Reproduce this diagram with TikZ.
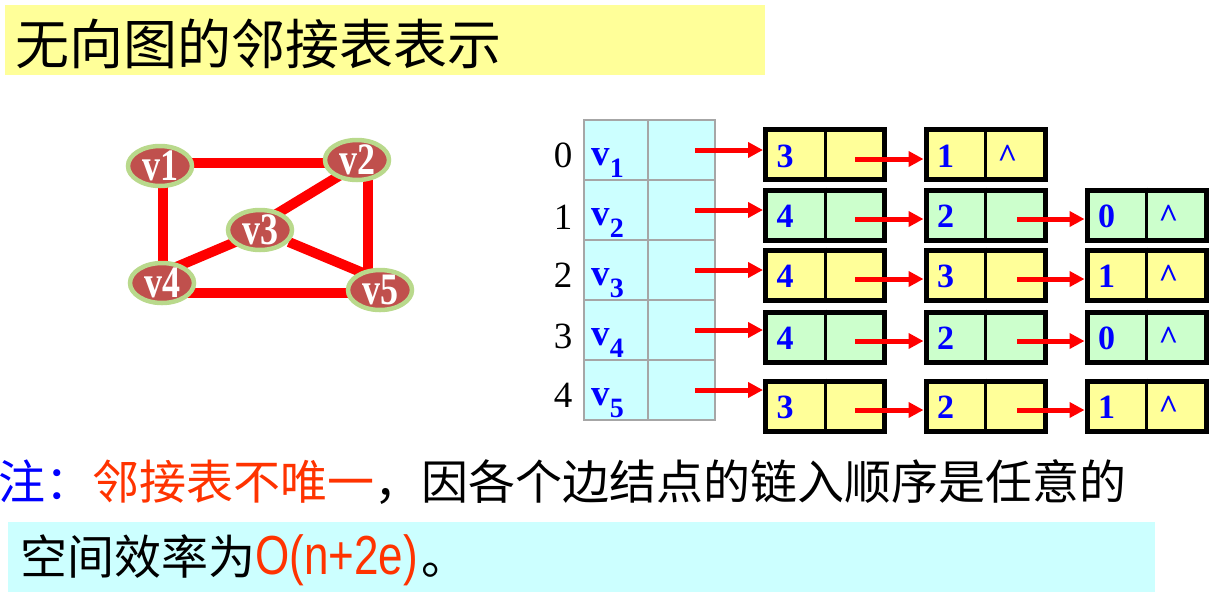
\documentclass[tikz,border=0pt]{standalone}
\usepackage{fontspec}
\setmainfont{Liberation Serif}
\newfontfamily\cjk{Noto Sans CJK SC}
\newfontfamily\narrowfont[FakeStretch=0.8]{Liberation Sans}
\newfontfamily\gfont[FakeStretch=0.8]{Liberation Serif}
\usetikzlibrary{arrows.meta,shapes.geometric,calc}
\definecolor{lyellow}{HTML}{FFFF99}
\definecolor{lgreen}{HTML}{CCFFCC}
\definecolor{lcyan}{HTML}{CCFFFF}
\definecolor{gfill}{HTML}{C0504D}
\definecolor{gborder}{HTML}{B9D98C}
\definecolor{tred}{HTML}{FF3300}
\definecolor{gridgray}{HTML}{A6A6A6}
\pgfdeclarelayer{background}
\pgfsetlayers{background,main}
\tikzset{
  gnode/.style={ellipse, draw=gborder, line width=4.5pt, fill=gfill, minimum width=64pt, minimum height=40pt, inner sep=0pt},
  gtext/.style={inner sep=0pt, text=white, font=\gfont\fontsize{45}{45}\selectfont\bfseries},
  gedge/.style={draw=red, line width=10pt},
  tcell/.style={draw=gridgray, line width=1.5pt, fill=lcyan, minimum height=60pt, inner sep=0pt},
  idx/.style={font=\fontsize{37}{37}\selectfont, inner sep=0pt},
  vlab/.style={text=blue, font=\fontsize{37}{37}\selectfont\bfseries, inner sep=0pt, anchor=base west},
  lbox/.style={draw=black, line width=5pt, minimum width=119pt, minimum height=50pt, inner sep=0pt},
  dig/.style={text=blue, font=\fontsize{34}{34}\selectfont\bfseries, inner sep=0pt, anchor=base},
  parrow/.style={draw=red, line width=5pt, -{Triangle[length=15pt,width=15pt]}},
  band/.style={inner sep=0pt, anchor=north west},
  cjktext/.style={inner sep=0pt, anchor=west},
}
\newcommand\mkbox[6]{%
  \node[lbox, fill=#4] (#1) at (#2,#3) {};
  \draw[line width=3pt] (#1.north) -- (#1.south);
  \node[dig] (#1d) at ($(#1.west)+(22,12.5)$) {#5};
  \node[dig] (#1c) at ($(#1.center)+(22,12.5)$) {#6};
}
\newcommand\vsub[1]{v\raisebox{-12pt}{\fontsize{28}{28}\selectfont #1}}
\begin{document}
\begin{tikzpicture}[x=1pt,y=-1pt]
\useasboundingbox (0,0) rectangle (1222,592);
% title band
\node[band, fill=lyellow, minimum width=760pt, minimum height=70pt] (titlebar) at (5,5) {};
\node[cjktext, font=\cjk\fontsize{54}{54}\selectfont] (title) at (15,44) {无向图的邻接表表示};
% graph
\foreach \n/\x/\y in {v1/160/166,v2/357/160,v3/260/230,v4/162/283,v5/380/290}{
  \node[gnode] (\n) at (\x,\y) {};
  \node[gtext] (\n t) at (\n) {\n};
}
\begin{pgfonlayer}{background}
\draw[gedge] ($(v1)+(0,-3)$) -- ($(v2)+(0,3)$);
\draw[gedge] ($(v1)+(3,0)$) -- ($(v4)+(1,0)$);
\draw[gedge] ($(v2)+(11,0)$) -- ($(v5)+(-12,0)$);
\draw[gedge] ($(v4)+(0,10)$) -- ($(v5)+(0,3)$);
\draw[gedge] ($(v2)+(0,5)$) -- ($(v3)+(0,-6)$);
\draw[gedge] ($(v3)+(0,1.5)$) -- ($(v4)+(0,-10)$);
\draw[gedge] (v3) -- ($(v5)+(0,-10)$);
\end{pgfonlayer}
% table
\foreach \i/\yy/\iy in {1/150/155,2/210/217,3/270/275,4/330/336,5/390/395}{
  \node[tcell, minimum width=64pt] (tk\i) at (616,\yy) {};
  \node[tcell, minimum width=67pt] (tp\i) at (681.5,\yy) {};
  \pgfmathtruncatemacro\ix{\i-1}
  \node[idx] (ix\i) at (563,\iy) {\ix};
  \node[vlab] (lab\i) at ($(tk\i.west)+(8,15)$) {\vsub{\i}};
  \coordinate (s\i) at ($(tp\i.center)+(13.5,0)$);
}
% lists
\mkbox{n11}{825}{154.5}{lyellow}{3}{}
\mkbox{n12}{985.5}{154.5}{lyellow}{1}{\textasciicircum}
\mkbox{n21}{825}{215}{lgreen}{4}{}
\mkbox{n22}{985.5}{215}{lgreen}{2}{}
\mkbox{n23}{1146.5}{215}{lgreen}{0}{\textasciicircum}
\mkbox{n31}{825}{275}{lyellow}{4}{}
\mkbox{n32}{985.5}{275}{lyellow}{3}{}
\mkbox{n33}{1146.5}{275}{lyellow}{1}{\textasciicircum}
\mkbox{n41}{825}{337}{lgreen}{4}{}
\mkbox{n42}{985.5}{337}{lgreen}{2}{}
\mkbox{n43}{1146.5}{337}{lgreen}{0}{\textasciicircum}
\mkbox{n51}{825}{406}{lyellow}{3}{}
\mkbox{n52}{985.5}{406}{lyellow}{2}{}
\mkbox{n53}{1146.5}{406}{lyellow}{1}{\textasciicircum}
% table arrows
\foreach \i in {1,...,5}{
  \draw[parrow] (s\i) -- (s\i -| n\i1.west);
}
% list arrows
\draw[parrow] ($(n11.center)+(30,4.5)$) -- ($(n12.west)+(0,4.5)$);
\foreach \i in {2,...,5}{
  \draw[parrow] ($(n\i1.center)+(30,4)$) -- ($(n\i2.west)+(0,4)$);
  \draw[parrow] ($(n\i2.center)+(31.5,4)$) -- ($(n\i3.west)+(0,4)$);
}
% notes
\node[cjktext, font=\cjk\fontsize{47}{47}\selectfont] (note) at (-2,482) {\textcolor{blue}{注：}\textcolor{tred}{邻接表不唯一}，因各个边结点的链入顺序是任意的};
\node[band, fill=lcyan, minimum width=1147pt, minimum height=70pt] (effbar) at (8,522) {};
\node[cjktext, font=\cjk\fontsize{47}{47}\selectfont] (eff) at (20,560) {空间效率为\textcolor{tred}{\narrowfont\fontsize{55}{55}\selectfont O(n+2e)}\hspace{4pt}。};
\end{tikzpicture}
\end{document}
